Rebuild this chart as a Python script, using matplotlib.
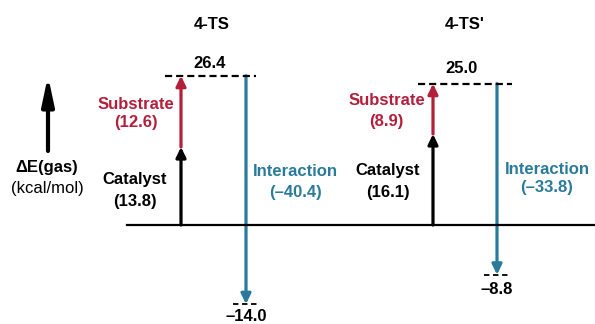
import matplotlib.pyplot as plt
from matplotlib.patches import FancyArrowPatch

plt.rcParams['font.family'] = ['Liberation Sans', 'DejaVu Sans']

# energies (kcal/mol)
systems = ["4-TS", "4-TS'"]
catalyst = [13.8, 16.1]
substrate = [12.6, 8.9]
interaction = [-40.4, -33.8]
total = [26.4, 25.0]
final = [-14.0, -8.8]

RED = '#b31e3b'
TEAL = '#2a7b9b'

fig = plt.figure(figsize=(5.95, 3.24), dpi=100)
ax = fig.add_axes([0, 0, 1, 1])
ax.set_xlim(0, 595)
ax.set_ylim(-17.5, 39.8)
ax.axis('off')


def arrow(x, y0, y1, color, lw=2.3, hl=6.0, hw=2.9):
    a = FancyArrowPatch((x, y0), (x, y1),
                        arrowstyle=f'-|>,head_length={hl},head_width={hw}',
                        color=color, lw=lw, shrinkA=0, shrinkB=0, mutation_scale=1)
    ax.add_patch(a)


# baseline
ax.plot([127, 595], [0, 0], color='black', lw=1.6)

# left axis arrow
arrow(48, 13.1, 26.4, 'black', lw=3, hl=17, hw=3.6)
ax.text(47, 10.2, 'ΔE(gas)', ha='center', va='center', fontsize=12, fontweight='bold')
ax.text(47, 6.4, '(kcal/mol)', ha='center', va='center', fontsize=12)

xc = [181, 433]      # catalyst/substrate arrows
xi = [246, 497]      # interaction arrows
xt = [212, 465]      # titles
dash_top = [(165, 256), (418, 512)]
dash_bot = [(233, 260), (484, 510)]
top_lab = [(210, 28.5), (462, 27.6)]
sub_pos = [(135.5, 21.4, 18.1), (386.5, 22.0, 18.4)]
cat_pos = [(134.5, 8.1, 4.1), (387.5, 9.6, 5.7)]
int_pos = [(295, 9.4, 5.8), (547, 9.9, 6.7)]
bot_lab_dy = [-2.2, -2.6]

for k in range(2):
    c, s, i, t, f = catalyst[k], substrate[k], interaction[k], total[k], final[k]
    ax.text(xt[k], 35.5, systems[k], ha='center', va='center', fontsize=12, fontweight='bold')
    # top level
    ax.plot(dash_top[k], [t, t], color='black', lw=1.6, dashes=(3.2, 1.8))
    ax.text(top_lab[k][0], top_lab[k][1], f'{t:.1f}', ha='center', va='center',
            fontsize=12, fontweight='bold')
    # bottom level
    ax.plot(dash_bot[k], [f, f], color='black', lw=1.3, dashes=(3, 2))
    ax.text(xi[k], f + bot_lab_dy[k], f'\u2013{abs(f):.1f}', ha='center', va='center',
            fontsize=12, fontweight='bold')
    # arrows
    arrow(xc[k], 0, c, 'black')
    arrow(xc[k], c, t, RED)
    arrow(xi[k], t, f, TEAL)
    # labels
    x, y1, y2 = sub_pos[k]
    ax.text(x, y1, 'Substrate', ha='center', va='center', fontsize=12, fontweight='bold', color=RED)
    ax.text(x, y2, f'({s:.1f})', ha='center', va='center', fontsize=12, fontweight='bold', color=RED)
    x, y1, y2 = cat_pos[k]
    ax.text(x, y1, 'Catalyst', ha='center', va='center', fontsize=12, fontweight='bold')
    ax.text(x, y2, f'({c:.1f})', ha='center', va='center', fontsize=12, fontweight='bold')
    x, y1, y2 = int_pos[k]
    ax.text(x, y1, 'Interaction', ha='center', va='center', fontsize=12, fontweight='bold', color=TEAL)
    ax.text(x, y2, f'(\u2013{abs(i):.1f})', ha='center', va='center', fontsize=12,
            fontweight='bold', color=TEAL)

fig.savefig('out.png', dpi=100)
